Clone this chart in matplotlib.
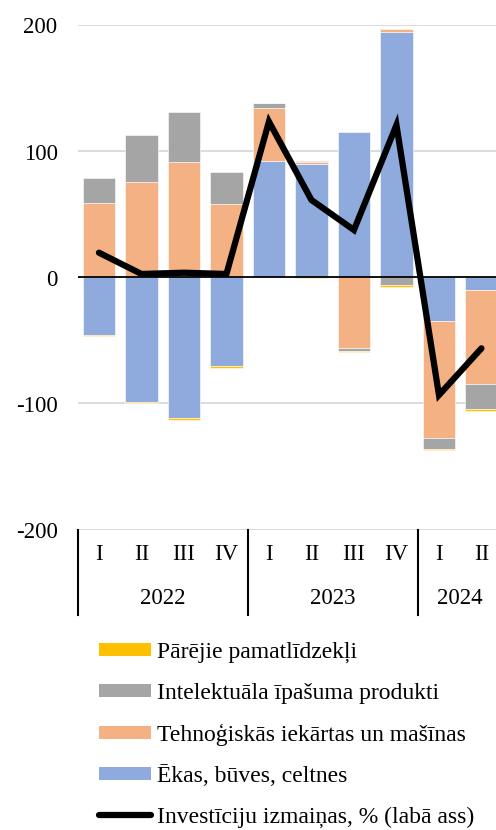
import matplotlib
matplotlib.use("Agg")
import matplotlib.pyplot as plt
import numpy as np
from matplotlib.patches import Patch
from matplotlib.lines import Line2D
import matplotlib.transforms as mtransforms

plt.rcParams['font.family'] = ['Liberation Serif', 'DejaVu Serif']

quarters = ["I", "II", "III", "IV", "I", "II", "III", "IV", "I", "II"]
years = ["2022", "2023", "2024"]
year_sizes = [4, 4, 2]

ekas = [-45.9, -98.6, -111.5, -70.5, 92.7, 90.1, 115.2, 195.1, -34.5, -9.9]
tehno = [59.4, 75.8, 91.4, 58.1, 41.6, 1.8, -55.7, 2.1, -93.1, -74.6]
intel = [19.3, 37.5, 39.9, 25.4, 3.9, 0.3, -2.4, -6.2, -8.3, -20.1]
parejie = [-0.8, -1.0, -1.2, -1.0, 0.0, -0.5, -1.0, -1.0, -1.0, -1.0]
investicijas = [19.7, 2.8, 3.8, 2.8, 123.7, 61.5, 37.7, 121.0, -93.3, -56.2]

series = [
    ("Ēkas, būves, celtnes", ekas, "#8FAADC"),
    ("Tehnoģiskās iekārtas un mašīnas", tehno, "#F4B183"),
    ("Intelektuāla īpašuma produkti", intel, "#A5A5A5"),
    ("Pārējie pamatlīdzekļi", parejie, "#FFC000"),
]
line_label = "Investīciju izmaiņas, % (labā ass)"

W, H = 496, 830
fig = plt.figure(figsize=(W / 100, H / 100), dpi=100)
ax_left, ax_right_px = 77.7, 502.7
ax_top, ax_bot = 25.5, 529.5
ax = fig.add_axes([ax_left / W, 1 - ax_bot / H, (ax_right_px - ax_left) / W, (ax_bot - ax_top) / H])

x = np.arange(len(quarters))
pos_base = np.zeros(len(x))
neg_base = np.zeros(len(x))
for label, vals, color in series:
    v = np.array(vals, dtype=float)
    base = np.where(v >= 0, pos_base, neg_base)
    ax.bar(x, v, bottom=base, width=0.76, color=color, edgecolor='white', linewidth=0.4, zorder=2)
    pos_base = pos_base + np.where(v >= 0, v, 0)
    neg_base = neg_base + np.where(v < 0, v, 0)

ax.set_xlim(-0.5, len(x) - 0.5)
ax.set_ylim(-200, 200)
ax.set_yticks([-200, -100, 0, 100, 200])
ax.set_yticklabels(["-200", "-100", "0", "100", "200"], fontsize=16.5)
ax.tick_params(axis='y', length=0, pad=14.5)
ax.set_xticks([])
for s in ax.spines.values():
    s.set_visible(False)
for yv in [-200, -100, 100, 200]:
    ax.axhline(yv, color='#D9D9D9', lw=1.3, zorder=1)
ax.axhline(0, color='black', lw=1.3, zorder=3)

ax2 = ax.twinx()
ax2.set_ylim(-200, 200)
ax2.set_xlim(-0.5, len(x) - 0.5)
ax2.plot(x, investicijas, color='black', lw=4.5, solid_capstyle='round', solid_joinstyle='miter', zorder=4)
ax2.set_yticks([])
for s in ax2.spines.values():
    s.set_visible(False)

# category axis
trans = mtransforms.blended_transform_factory(ax.transData, ax.transAxes)
for i, q in enumerate(quarters):
    ax.text(i, -0.050, q, transform=trans, ha='center', va='center', fontsize=16.5, clip_on=False)
start = 0
seps = [-0.5]
for yr, n in zip(years, year_sizes):
    ax.text(start + (n - 1) / 2, -0.136, yr, transform=trans, ha='center', va='center', fontsize=16.5, clip_on=False)
    start += n
    seps.append(start - 0.5)
for sx in seps:
    ax.plot([sx, sx], [0, -0.17], transform=trans, color='black', lw=1.5, clip_on=False)

handles = [Patch(facecolor=c, label=l) for l, _, c in series[::-1]]
handles.append(Line2D([], [], color='black', lw=4.5, solid_capstyle='round', label=line_label))
fig.legend(handles=handles, loc='upper left', bbox_to_anchor=(99 / W, 1 - 642 / H),
           frameon=False, fontsize=17, handlelength=2.2, handleheight=0.46,
           handletextpad=0.25, labelspacing=0.83, borderpad=0, borderaxespad=0)

fig.savefig("out.png", dpi=100)
